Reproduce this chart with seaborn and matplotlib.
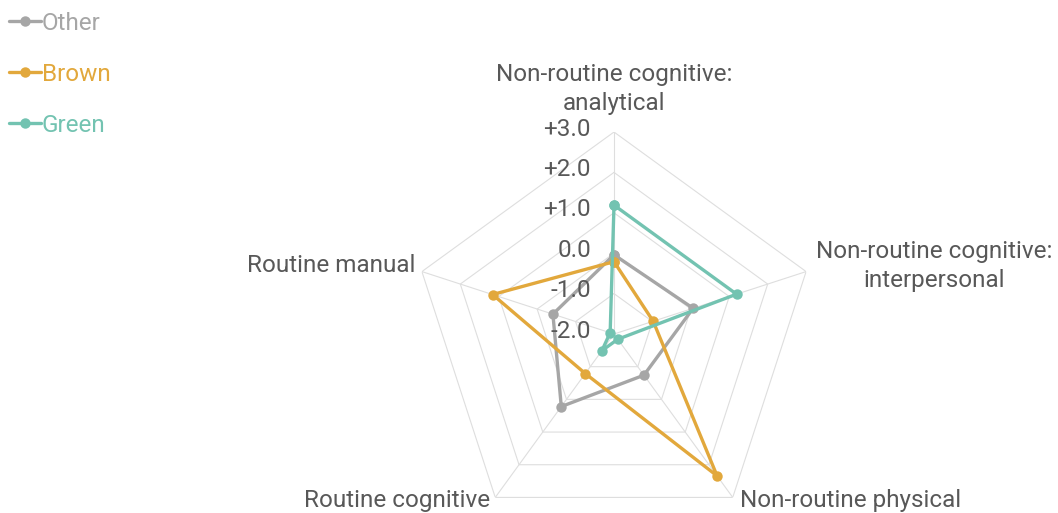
import numpy as np
import pandas as pd
import matplotlib
matplotlib.use("Agg")
import matplotlib.pyplot as plt
import matplotlib.transforms as mtrans
import seaborn as sns

categories = ["Non-routine cognitive:\nanalytical",
              "Non-routine cognitive:\ninterpersonal",
              "Non-routine physical",
              "Routine cognitive",
              "Routine manual"]
series_names = ["Other", "Brown", "Green"]
other_vals = [-0.04, 0.06, -0.74, 0.22, -0.41]
brown_vals = [-0.21, -0.98, 2.34, -0.79, 1.16]
green_vals = [1.19, 1.19, -1.84, -1.49, -1.90]
tick_values = [-2.0, -1.0, 0.0, 1.0, 2.0, 3.0]
tick_labels = ["-2.0", "-1.0", "0.0", "+1.0", "+2.0", "+3.0"]
colors = {"Other": "#a6a6a6", "Brown": "#e2a83c", "Green": "#73c3b1"}

sns.set_style("white")
plt.rcParams["font.family"] = ["Roboto", "DejaVu Sans"]

n = len(categories)
angles = np.linspace(0, 2 * np.pi, n, endpoint=False)

rows = []
for name, vals in zip(series_names, [other_vals, brown_vals, green_vals]):
    for i in range(n + 1):
        rows.append({"series": name, "theta": angles[i % n] if i < n else 2 * np.pi,
                     "value": vals[i % n], "order": i})
df = pd.DataFrame(rows)

fig = plt.figure(figsize=(10.58, 5.13), dpi=100)
R = 202
cx, cy = 614, 334
W, H = 1058, 513
ax = fig.add_axes([(cx - R) / W, (H - cy - R) / H, 2 * R / W, 2 * R / H], projection="polar")
ax.set_theta_offset(np.pi / 2)
ax.set_theta_direction(-1)
ax.set_ylim(tick_values[0], tick_values[-1])
ax.grid(False)
ax.spines["polar"].set_visible(False)
ax.set_xticks([])
ax.set_yticks([])
ax.patch.set_alpha(0)

grid_color = "#dedede"
ring_angles = np.append(angles, angles[0])
for v in tick_values[1:]:
    ax.plot(ring_angles, [v] * (n + 1), color=grid_color, lw=0.8, zorder=1)
for a in angles:
    ax.plot([a, a], [tick_values[0], tick_values[-1]], color=grid_color, lw=0.8, zorder=1)

sns.lineplot(data=df, x="theta", y="value", hue="series", hue_order=series_names,
             palette=colors, sort=False, marker="o", markersize=7.5, markeredgewidth=0,
             linewidth=2.4, ax=ax, legend=True, zorder=3)
ax.set_xlabel("")
ax.set_ylabel("")
ax.set_ylim(tick_values[0], tick_values[-1])

text_color = "#585858"
fs = 17.5
off = mtrans.offset_copy(ax.transData, fig=fig, x=-23, y=3, units="dots")
for v, lab in zip(tick_values, tick_labels):
    ax.text(0, v, lab, transform=off, ha="right", va="center", fontsize=fs,
            color=text_color)

# category labels
label_pos = [(614, 89, "center"), (934, 266, "center"), (740, 500, "left"),
             (490, 500, "right"), (415, 266, "right")]
for lab, (x, y, ha) in zip(categories, label_pos):
    fig.text(x / W, 1 - y / H, lab, ha=ha, va="center", fontsize=fs, color=text_color,
             linespacing=1.38, multialignment="center")

leg = ax.get_legend()
handles, labels = ax.get_legend_handles_labels()
leg.remove()
fig.legend(handles, labels, loc="upper left", bbox_to_anchor=(9 / W, 1 - 12 / H), frameon=False,
           labelcolor="linecolor", handlelength=1.3, handletextpad=0.05,
           labelspacing=1.15, borderaxespad=0.0, borderpad=0.0,
           prop={"family": ["Roboto"], "size": fs})

fig.savefig("out.png", dpi=100)
